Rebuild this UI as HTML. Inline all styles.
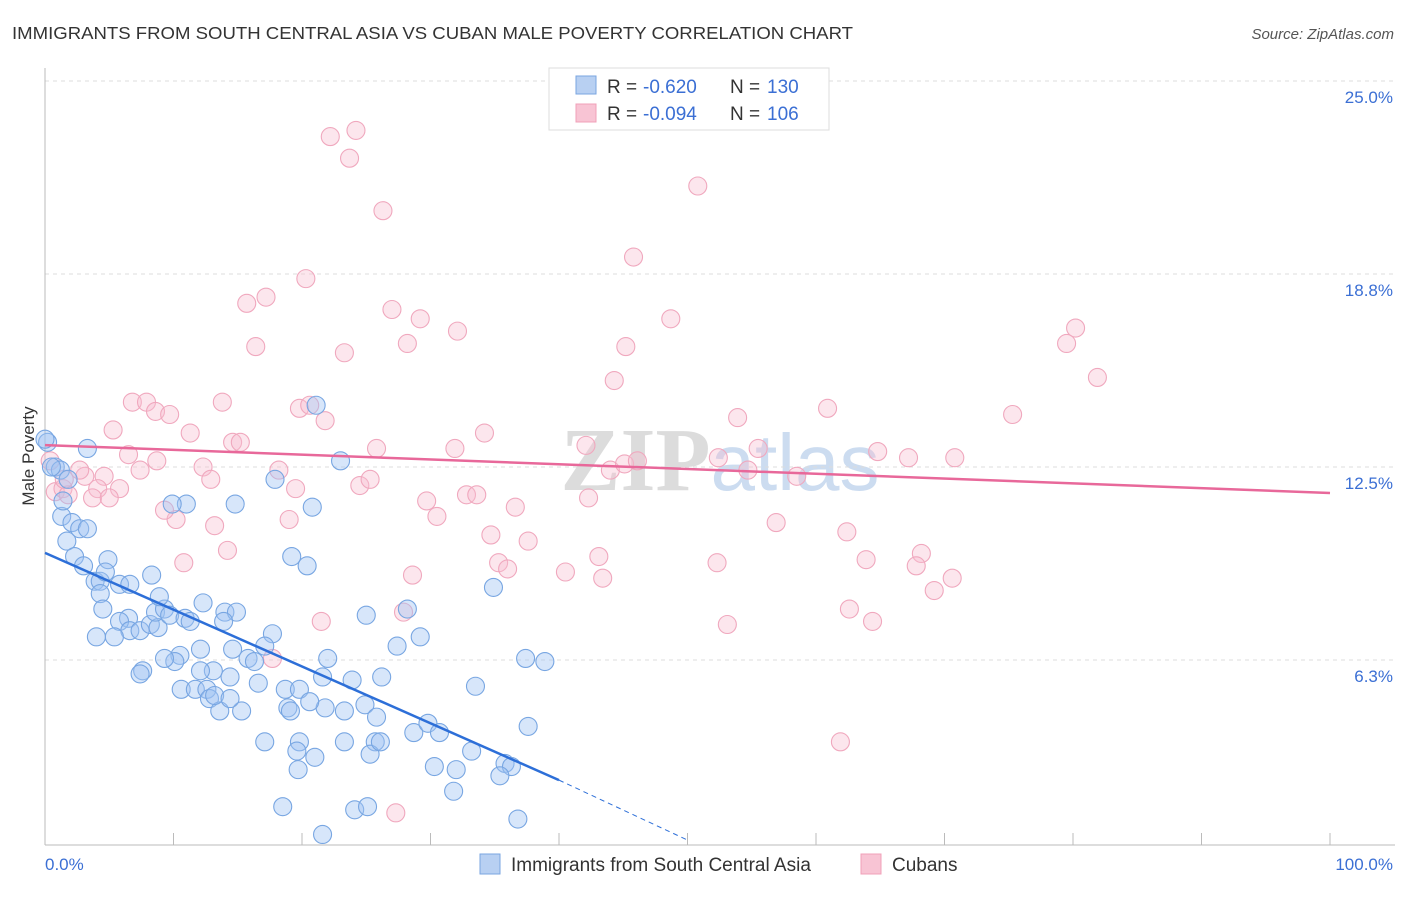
<!DOCTYPE html>
<html><head><meta charset="utf-8"><style>
body{margin:0;background:#fff;font-family:"Liberation Sans",sans-serif;}
svg text{font-family:"Liberation Sans",sans-serif;}
</style></head><body>
<svg id="chart" width="1406" height="892" xmlns="http://www.w3.org/2000/svg">
<text x="12" y="39" font-size="17.5" fill="#333" textLength="841" lengthAdjust="spacingAndGlyphs">IMMIGRANTS FROM SOUTH CENTRAL ASIA VS CUBAN MALE POVERTY CORRELATION CHART</text>
<text x="1394" y="39" font-size="15" fill="#555" text-anchor="end" font-style="italic">Source: ZipAtlas.com</text>
<text transform="translate(34,456) rotate(-90)" font-size="17" fill="#333" text-anchor="middle">Male Poverty</text>
<g font-size="90" text-anchor="middle"><text x="720" y="490"><tspan fill="#dcdcdc" font-weight="bold" font-family="Liberation Serif">ZIP</tspan><tspan fill="#ccdcf0" font-size="80">atlas</tspan></text></g>
<g id="grid"></g><g id="axes"></g><g id="pinkpts"></g><g id="bluepts"></g><g id="lines"></g>
<g>
<rect x="549" y="68" width="280" height="62" fill="#fff" stroke="#ddd"/>
<rect x="576" y="76" width="20" height="18" fill="#b8d0f2" stroke="#7aa6e0"/>
<rect x="576" y="104" width="20" height="18" fill="#f8c4d4" stroke="#f0a0b8"/>
<text x="607" y="93" font-size="19" fill="#333">R = </text><text x="643" y="93" font-size="19" fill="#3b6fd4">-0.620</text>
<text x="730" y="93" font-size="19" fill="#333">N = </text><text x="767" y="93" font-size="19" fill="#3b6fd4">130</text>
<text x="607" y="120" font-size="19" fill="#333">R = </text><text x="643" y="120" font-size="19" fill="#3b6fd4">-0.094</text>
<text x="730" y="120" font-size="19" fill="#333">N = </text><text x="767" y="120" font-size="19" fill="#3b6fd4">106</text>
</g>
<g>
<rect x="480" y="854" width="20" height="20" fill="#b8d0f2" stroke="#7aa6e0"/>
<text x="511" y="871" font-size="19" fill="#333">Immigrants from South Central Asia</text>
<rect x="861" y="854" width="20" height="20" fill="#f8c4d4" stroke="#f0a0b8"/>
<text x="892" y="871" font-size="19" fill="#333">Cubans</text>
</g>
</svg>
<script>
const yTicks=[25.0,18.75,12.5,6.25];
const yTickLabels=["25.0%","18.8%","12.5%","6.3%"];
const xTickLabels=["0.0%","100.0%"];
const blueX=[0.2,0.8,1.2,0.5,3.3,1.8,1.3,2.1,1.7,2.7,3.3,2.3,3.0,3.9,4.3,4.9,4.3,5.8,6.6,4.7,8.3,4.5,6.5,5.8,6.6,5.4,4.0,7.4,8.2,8.8,8.6,9.3,9.7,8.9,10.9,11.3,12.3,14.0,14.9,13.9,14.6,12.1,10.5,10.1,9.3,7.6,7.4,17.7,17.1,15.8,16.3,14.4,13.1,12.1,10.6,11.7,12.6,12.8,13.6,15.3,13.2,14.4,16.6,18.7,19.8,18.9,19.1,21.8,20.6,21.6,22.0,23.3,23.9,24.9,25.8,26.2,25.7,23.3,19.8,17.1,19.6,21.0,19.7,25.3,26.1,28.7,29.8,30.7,33.5,28.2,29.2,27.4,25.0,33.2,35.8,36.3,35.4,32.0,30.3,31.8,37.6,37.4,38.9,34.9,36.8,21.6,18.5,24.1,25.1,11.0,9.9,14.8,20.8,17.9,19.2,20.4,21.1,23.0,1.4,0.0];
const blueY=[13.3,12.5,12.4,12.5,13.1,12.1,10.9,10.7,10.1,10.5,10.5,9.6,9.3,8.8,8.8,9.5,8.4,8.7,8.7,9.1,9.0,7.9,7.6,7.5,7.2,7.0,7.0,7.2,7.4,7.3,7.8,7.9,7.7,8.3,7.6,7.5,8.1,7.8,7.8,7.5,6.6,6.6,6.4,6.2,6.3,5.9,5.8,7.1,6.7,6.3,6.2,5.7,5.9,5.9,5.3,5.3,5.3,5.0,4.6,4.6,5.1,5.0,5.5,5.3,5.3,4.7,4.6,4.7,4.9,5.7,6.3,4.6,5.6,4.8,4.4,5.7,3.6,3.6,3.6,3.6,3.3,3.1,2.7,3.2,3.6,3.9,4.2,3.9,5.4,7.9,7.0,6.7,7.7,3.3,2.9,2.8,2.5,2.7,2.8,2.0,4.1,6.3,6.2,8.6,1.1,0.6,1.5,1.4,1.5,11.3,11.3,11.3,11.2,12.1,9.6,9.3,14.5,12.7,11.4,13.4];
const pinkX=[22.2,24.2,23.7,26.3,50.8,45.8,20.3,17.2,15.7,27.0,29.2,32.1,48.7,16.4,23.3,28.2,45.2,44.3,80.2,79.5,81.9,6.8,7.9,8.6,9.7,13.8,19.8,20.6,21.8,5.3,11.3,14.6,15.2,25.8,31.9,34.2,42.1,53.9,60.9,75.3,64.8,67.2,70.8,55.5,54.7,58.5,52.4,6.5,8.7,7.4,4.6,3.1,12.3,12.9,18.2,4.1,5.8,0.8,1.4,1.8,3.7,19.5,24.5,25.3,29.7,32.8,33.6,36.6,30.5,42.3,44.0,45.1,46.1,10.2,9.3,13.2,19.0,34.7,37.6,14.2,10.8,28.6,35.3,36.0,40.5,43.1,43.4,52.3,56.9,62.4,63.9,68.2,67.8,70.6,69.2,62.6,64.4,53.1,21.5,27.9,17.7,61.9,27.3,0.4,1.5,2.7,5.0];
const pinkY=[23.2,23.4,22.5,20.8,21.6,19.3,18.6,18.0,17.8,17.6,17.3,16.9,17.3,16.4,16.2,16.5,16.4,15.3,17.0,16.5,15.4,14.6,14.6,14.3,14.2,14.6,14.4,14.5,14.0,13.7,13.6,13.3,13.3,13.1,13.1,13.6,13.2,14.1,14.4,14.2,13.0,12.8,12.8,13.1,12.4,12.2,12.8,12.9,12.7,12.4,12.2,12.2,12.5,12.1,12.4,11.8,11.8,11.7,11.8,11.6,11.5,11.8,11.9,12.1,11.4,11.6,11.6,11.2,10.9,11.5,12.4,12.6,12.7,10.8,11.1,10.6,10.8,10.3,10.1,9.8,9.4,9.0,9.4,9.2,9.1,9.6,8.9,9.4,10.7,10.4,9.5,9.7,9.3,8.9,8.5,7.9,7.5,7.4,7.5,7.8,6.3,3.6,1.3,12.7,12.1,12.4,11.5];
const blueTrend=[9.72,2.36,0.4];
const blueTrendX=[0,40,50.1];
const pinkTrend=[13.21,11.66];

const NS="http://www.w3.org/2000/svg";
const X=v=>45+v*12.85;
const Y=v=>81+(25-v)*30.88;
function mk(tag,attrs,parent){const e=document.createElementNS(NS,tag);for(const k in attrs)e.setAttribute(k,attrs[k]);document.getElementById(parent).appendChild(e);return e;}
yTicks.forEach((t,i)=>{
 const l=mk('line',{x1:45,x2:1395,y1:Y(t),y2:Y(t),stroke:'#ddd','stroke-dasharray':'4,4'},'grid');
 
 
 const tx=mk('text',{x:1393,y:Y(t)+22,'font-size':17,fill:'#3b6fd4','text-anchor':'end'},'grid');
 tx.textContent=yTickLabels[i];
 
 
});
const ax=mk('line',{x1:45,x2:45,y1:68,y2:845,stroke:'#bbb'},'axes');


const bx=mk('line',{x1:45,x2:1395,y1:845,y2:845,stroke:'#bbb'},'axes');


for(let i=0;i<=10;i++){const t=mk('line',{x1:X(i*10),x2:X(i*10),y1:833,y2:845,stroke:'#bbb'},'axes');
 
 }
[[0,'start',45],[100,'end',1393]].forEach((d,i)=>{const t=mk('text',{x:d[2],y:870,'font-size':17,fill:'#3b6fd4','text-anchor':d[1]},'axes');t.textContent=xTickLabels[i];
 
 });
pinkX.forEach((v,i)=>{const c=mk('circle',{cx:X(v),cy:Y(pinkY[i]),r:9,fill:'rgba(248,190,208,0.38)',stroke:'#f0a8be','stroke-width':1.1},'pinkpts');
 
 });
blueX.forEach((v,i)=>{const c=mk('circle',{cx:X(v),cy:Y(blueY[i]),r:9,fill:'rgba(160,196,242,0.42)',stroke:'#78a6e2','stroke-width':1.1},'bluepts');
 
 });
const pl=mk('line',{x1:X(0),y1:Y(pinkTrend[0]),x2:X(100),y2:Y(pinkTrend[1]),stroke:'#e8689a','stroke-width':2.5},'lines');


const bl=mk('line',{x1:X(blueTrendX[0]),y1:Y(blueTrend[0]),x2:X(blueTrendX[1]),y2:Y(blueTrend[1]),stroke:'#2d6fd8','stroke-width':2.5},'lines');


const bd=mk('line',{x1:X(blueTrendX[1]),y1:Y(blueTrend[1]),x2:X(blueTrendX[2]),y2:Y(blueTrend[2]),stroke:'#2d6fd8','stroke-width':1,'stroke-dasharray':'5,4'},'lines');


</script>
</body></html>
